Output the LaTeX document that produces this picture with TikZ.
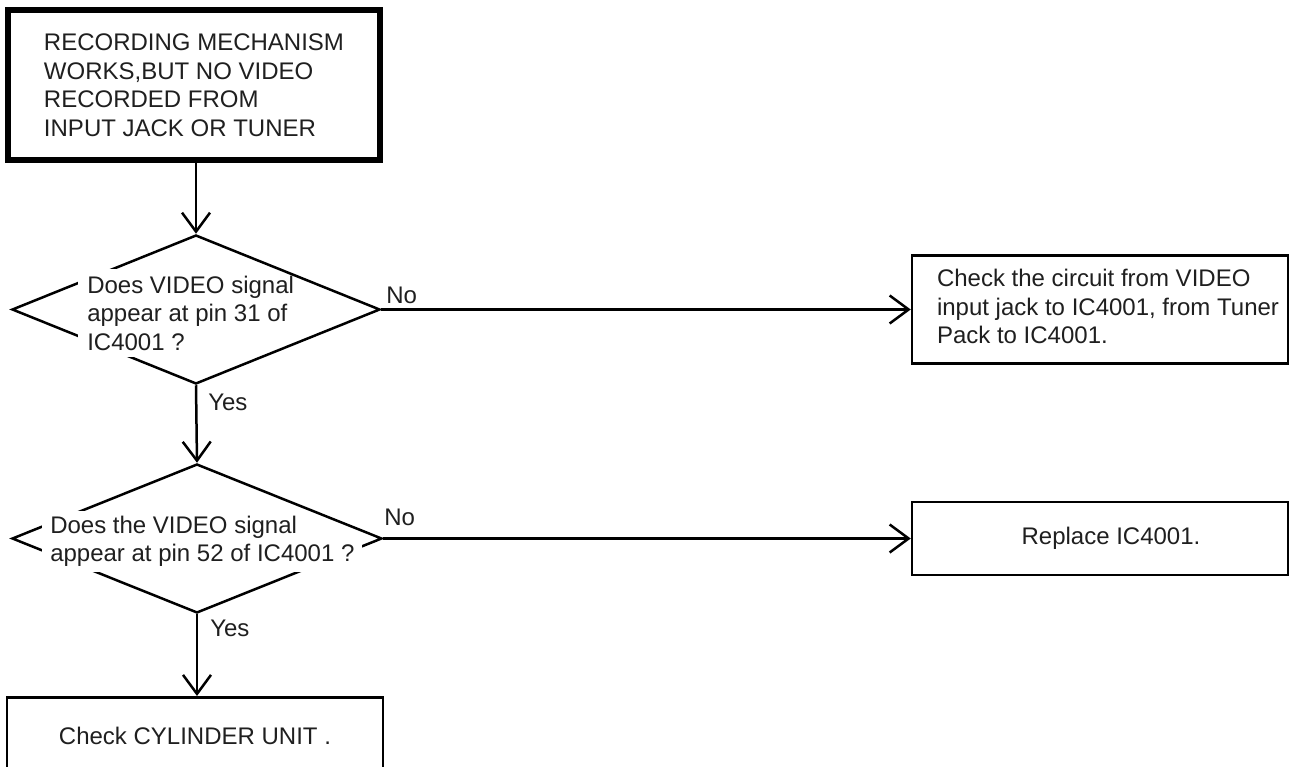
\documentclass[tikz,border=0pt]{standalone}
\usepackage{fontspec}
\setmainfont{Liberation Sans}
\usetikzlibrary{shapes.geometric,arrows.meta}
\begin{document}
\begin{tikzpicture}[x=1pt,y=-1pt,
  line width=2.5pt,
  every node/.style={font=\fontsize{24pt}{28.5pt}\selectfont, text=black!88},
  thinbox/.style={draw, rectangle, inner sep=0pt},
  thickbox/.style={draw, rectangle, inner sep=0pt, line width=6.5pt},
  dia/.style={draw, diamond, inner sep=0pt},
  arr/.style={-{Straight Barb[length=19pt,width=28pt]}},
  lbl/.style={inner sep=0pt, anchor=base west}]
\useasboundingbox (0,0) rectangle (1292,767);

% start box
\node[thickbox, minimum width=372pt, minimum height=150pt, align=left] (top) at (194,85)
  {RECORDING MECHANISM\\WORKS,BUT NO VIDEO\\RECORDED FROM\\INPUT JACK OR TUNER};

% decision 1
\node[dia, minimum width=368pt, minimum height=149pt] (d1) at (196,309.5) {};
\fill[white] (78,269) rectangle (256,357);
\node[inner sep=0pt, anchor=west, align=left] (q1) at (86,313.4)
  {Does VIDEO signal\\appear at pin 31 of\\IC4001 ?};

% decision 2
\node[dia, minimum width=370pt, minimum height=149pt] (d2) at (197,538.5) {};
\fill[white] (42,511) rectangle (300,540);
\fill[white] (42,540) rectangle (362,572);
\node[inner sep=0pt, anchor=west, align=left] (q2) at (49,541.3)
  {Does the VIDEO signal\\appear at pin 52 of IC4001 ?};

% right boxes
\node[thinbox, minimum width=376pt, minimum height=108pt] (b1) at (1100,309.5)
  {\hspace*{16pt}\raisebox{-19pt}{\begin{tabular}{@{}l@{}}Check the circuit from VIDEO\\input jack to IC4001, from Tuner\\Pack to IC4001.\end{tabular}}};
\node[thinbox, minimum width=376pt, minimum height=73pt] (b2) at (1100,538.5)
  {\hspace*{22pt}Replace IC4001.};

% bottom box (runs past the lower edge)
\node[thinbox, minimum width=376pt, minimum height=88pt, anchor=north] (cyl) at (195,696)
  {\raisebox{10pt}{Check CYLINDER UNIT .}};

% connectors
\draw[arr] (top.south -| d1.north) -- (d1.north);
\draw[arr] (d1.south) -- (d2.north);
\draw[arr] (d2.south) -- (d2.south |- cyl.north);
\draw[arr] (d1.east) -- (d1.east -| b1.west);
\draw[arr] (d2.east) -- (d2.east -| b2.west);

% labels
\node[lbl] (no1) at (385,303.6) {No};
\node[lbl] (yes1) at (207,410.6) {Yes};
\node[lbl] (no2) at (383,525.6) {No};
\node[lbl] (yes2) at (209,636.6) {Yes};
\end{tikzpicture}
\end{document}
